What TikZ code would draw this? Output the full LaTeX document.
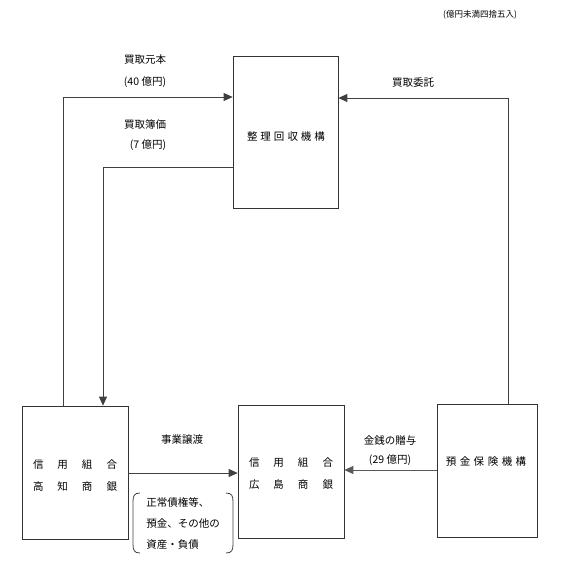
\documentclass[tikz,border=0pt]{standalone}
\usepackage{fontspec}
\newfontfamily\cjk{Noto Sans CJK JP}
\usetikzlibrary{arrows.meta}
\newcommand{\gapx}[1]{\hskip #1pt\relax}
\begin{document}
\begin{tikzpicture}[x=1pt,y=-1pt,
  box/.style={draw=black!80,line width=0.7pt,inner sep=0pt},
  lbl/.style={font=\cjk\fontsize{10.5}{12}\selectfont,text=black,inner sep=0pt},
  conn/.style={draw=black!75,line width=0.8pt},
  arr/.style={conn,-{Triangle[length=9pt,width=8pt]}}]
\useasboundingbox (0,0) rectangle (560,576);
% boxes
\node[box,minimum width=105pt,minimum height=152pt] (rcc) at (285.5,132) {};
\node[box,minimum width=106pt,minimum height=133pt] (kochi) at (75,472.5) {};
\node[box,minimum width=106pt,minimum height=133pt] (hiro) at (291,471.5) {};
\node[box,minimum width=100pt,minimum height=133pt] (dic) at (487,470.5) {};
% box texts
\node[lbl] (trcc) at (286,137) {整\gapx3理\gapx3回\gapx3収\gapx3機\gapx3構};
\node[lbl] (tk1) at (75,465) {信\gapx{14}用\gapx{14}組\gapx{14}合};
\node[lbl] (tk2) at (75,487) {高\gapx{14}知\gapx{14}商\gapx{14}銀};
\node[lbl] (th1) at (291,463) {信\gapx{14}用\gapx{14}組\gapx{14}合};
\node[lbl] (th2) at (291,485) {広\gapx{14}島\gapx{14}商\gapx{14}銀};
\node[lbl] (td) at (486,462) {預\gapx{3.5}金\gapx{3.5}保\gapx{3.5}険\gapx{3.5}機\gapx{3.5}構};
% note
\node[lbl,font=\cjk\fontsize{8.5}{10}\selectfont] (note) at (480,15) {(億円未満四捨五入)};
% connectors
\coordinate (c1) at (63,97);
\coordinate (c2) at (103,167);
\coordinate (c3) at (508,98);
\draw[arr] (kochi.north -| c1) -- (c1) -- (c1 -| rcc.west);
\draw[arr] (c2 -| rcc.west) -- (c2) -- (c2 |- kochi.north);
\draw[arr] (c3 |- dic.north) -- (c3) -- (c3 -| rcc.east);
\draw[arr] (kochi.east |- 0,473) -- (hiro.west |- 0,473);
\draw[arr,draw=black!65] (dic.west |- 0,470) -- (hiro.east |- 0,470);
% labels
\node[lbl] (l1) at (145,60) {買取元本};
\node[lbl] (l2) at (145,82) {(40 億円)};
\node[lbl] (l3) at (145,125) {買取簿価};
\node[lbl] (l4) at (148,145) {(7 億円)};
\node[lbl] (l5) at (413,83) {買取委託};
\node[lbl] (l6) at (182,440) {事業譲渡};
\node[lbl] (l7) at (390,440) {金銭の贈与};
\node[lbl] (l8) at (390,460) {(29 億円)};
% bracket text
\node[lbl,align=left,font=\cjk\fontsize{10.5}{21}\selectfont] (br) at (183,524) {正常債権等、\\預金、その他の\\資産・負債};
\draw[conn] (140,493) .. controls (134,493) and (133,496) .. (133,502) -- (133,544) .. controls (133,550) and (134,553) .. (140,553);
\draw[conn] (226,493) .. controls (232,493) and (233,496) .. (233,502) -- (233,544) .. controls (233,550) and (232,553) .. (226,553);
\end{tikzpicture}
\end{document}
